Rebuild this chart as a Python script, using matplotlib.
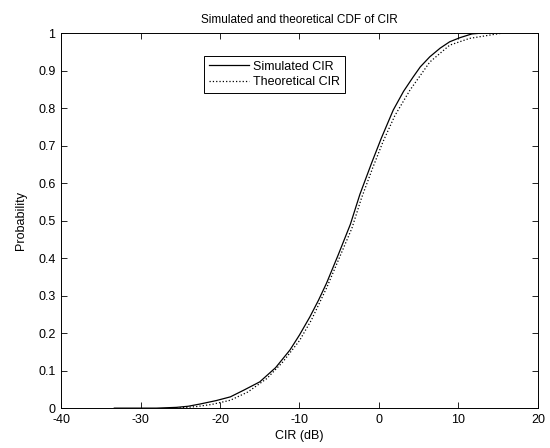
import matplotlib
matplotlib.use("Agg")
import matplotlib.pyplot as plt

plt.rcParams['font.family'] = ['Liberation Sans', 'DejaVu Sans']
plt.rcParams['font.size'] = 9
plt.rcParams['axes.unicode_minus'] = False

# 시뮬레이션 CIR (dB) - 경험적 CDF
sim_x = [-33.3, -28.0, -25.5, -24.0, -22.5, -20.5, -18.7, -17.0, -15.0, -13.0,
         -11.2, -10.0, -8.7, -7.6, -6.6, -5.1, -3.6, -2.4, -0.9, 0.3,
         1.8, 3.1, 4.3, 5.2, 6.4, 7.7, 8.9, 10.2, 11.7, 12.9]
sim_y = [0.0, 0.0, 0.002, 0.005, 0.011, 0.02, 0.03, 0.048, 0.07, 0.108,
         0.155, 0.195, 0.243, 0.288, 0.333, 0.41, 0.49, 0.57, 0.655, 0.72,
         0.795, 0.845, 0.883, 0.91, 0.937, 0.96, 0.977, 0.988, 0.998, 1.0]

# 이론 CIR
theo_x = [-25.5, -23.0, -21.0, -18.7, -16.5, -14.1, -12.1, -10.0, -8.5, -6.6,
          -5.0, -3.4, -2.2, -0.8, 0.5, 2.0, 3.9, 5.2, 6.4, 8.9,
          11.4, 14.0, 15.5]
theo_y = [0.0, 0.004, 0.01, 0.021, 0.043, 0.079, 0.123, 0.18, 0.235, 0.32,
          0.40, 0.48, 0.56, 0.64, 0.71, 0.78, 0.848, 0.887, 0.923, 0.968,
          0.986, 0.995, 1.0]

x_ticks = [-40, -30, -20, -10, 0, 10, 20]
y_ticks = [0, 0.1, 0.2, 0.3, 0.4, 0.5, 0.6, 0.7, 0.8, 0.9, 1]
y_labels = ['0', '0.1', '0.2', '0.3', '0.4', '0.5', '0.6', '0.7', '0.8', '0.9', '1']

fig = plt.figure(figsize=(5.5, 4.48), dpi=100)
ax = fig.add_axes([0.111, 0.089, 0.867, 0.837])

ax.plot(sim_x, sim_y, color='black', lw=0.9, label='Simulated CIR')
ax.plot(theo_x, theo_y, color='black', lw=0.9, ls=':', label='Theoretical CIR')

ax.set_xlim(-40, 20)
ax.set_ylim(0, 1)
ax.set_xticks(x_ticks)
ax.set_yticks(y_ticks)
ax.set_yticklabels(y_labels)
ax.tick_params(axis='x', direction='in', length=4, width=0.6, top=True, pad=4)
ax.tick_params(axis='y', direction='in', length=4, width=0.6, right=True, pad=4)
for s in ax.spines.values():
    s.set_linewidth(0.7)

ax.set_xlabel('CIR (dB)', labelpad=3)
ax.set_ylabel('Probability', labelpad=8)
ax.set_title('Simulated and theoretical CDF of CIR', fontsize=8.5, pad=7)

leg = ax.legend(loc='upper left', bbox_to_anchor=(0.287, 0.957), fancybox=False,
                edgecolor='black', framealpha=1, handlelength=3.2,
                borderpad=0.4, labelspacing=0.3, handletextpad=0.3)
leg.get_frame().set_linewidth(0.7)

fig.savefig('out.png', dpi=100)
